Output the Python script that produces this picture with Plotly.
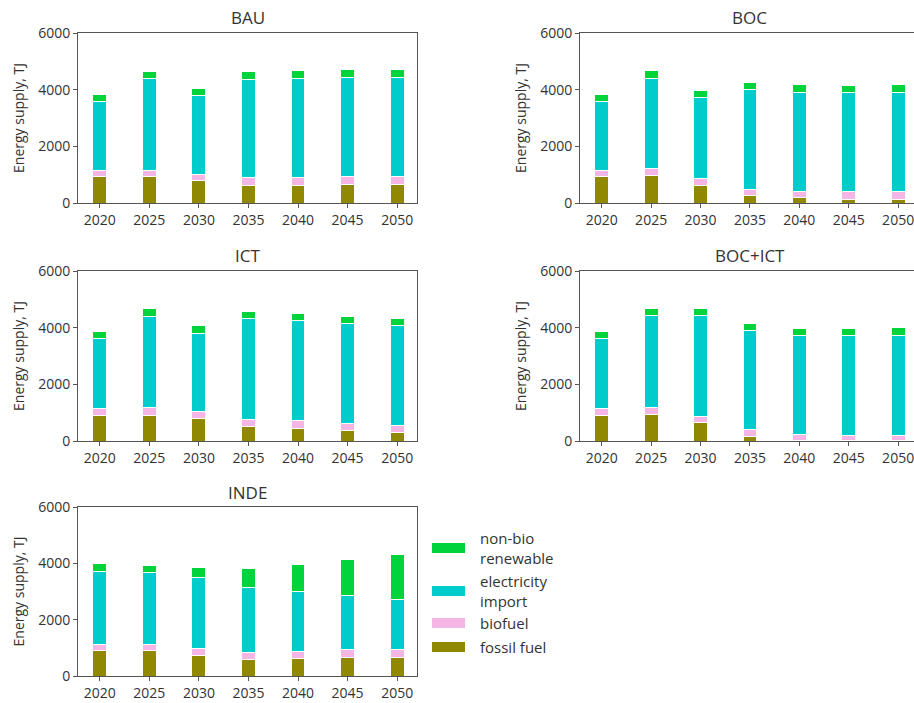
import plotly.graph_objects as go

years = ["2020", "2025", "2030", "2035", "2040", "2045", "2050"]
scenarios = ["BAU", "BOC", "ICT", "BOC+ICT", "INDE"]

series_names = ["fossil fuel", "biofuel", "electricity<br>import", "non-bio<br>renewable"]
series_colors = ["#8f8800", "#f5b6e6", "#00cccc", "#00d43a"]

# Energy supply by source (TJ) for each scenario
fossil_fuel = {
    "BAU":     [920, 920, 780, 620, 620, 670, 670],
    "BOC":     [920, 960, 620, 270, 190, 140, 140],
    "ICT":     [900, 900, 790, 520, 450, 370, 300],
    "BOC+ICT": [900, 930, 640, 165, 20, 10, 10],
    "INDE":    [890, 890, 740, 580, 620, 670, 670],
}
biofuel = {
    "BAU":     [230, 230, 230, 270, 270, 270, 270],
    "BOC":     [230, 250, 260, 210, 200, 260, 260],
    "ICT":     [230, 290, 250, 250, 260, 260, 230],
    "BOC+ICT": [230, 240, 230, 235, 200, 180, 180],
    "INDE":    [240, 240, 250, 240, 250, 260, 260],
}
electricity_import = {
    "BAU":     [2440, 3230, 2770, 3480, 3510, 3500, 3500],
    "BOC":     [2440, 3190, 2840, 3530, 3500, 3490, 3490],
    "ICT":     [2480, 3200, 2770, 3550, 3540, 3510, 3540],
    "BOC+ICT": [2480, 3250, 3550, 3500, 3500, 3530, 3530],
    "INDE":    [2580, 2540, 2490, 2330, 2130, 1930, 1790],
}
non_bio_renewable = {
    "BAU":     [250, 250, 260, 280, 260, 260, 260],
    "BOC":     [250, 260, 260, 250, 280, 250, 280],
    "ICT":     [250, 270, 250, 260, 250, 250, 270],
    "BOC+ICT": [250, 260, 260, 260, 260, 260, 300],
    "INDE":    [270, 260, 370, 650, 965, 1280, 1610],
}
series_data = [fossil_fuel, biofuel, electricity_import, non_bio_renewable]

W, H = 914, 703
FONT = "Open Sans, Noto Sans, DejaVu Sans, sans-serif"
TEXT = "#333333"
AXIS = "#555555"

# panel boxes in pixels: (left, right, top, bottom)
col_x = [(78, 417), (580, 914)]
row_y = [(33, 203), (271, 441), (507, 676)]
panel_pos = {
    "BAU": (0, 0), "BOC": (0, 1),
    "ICT": (1, 0), "BOC+ICT": (1, 1),
    "INDE": (2, 0),
}
UNIT_PX = 49.4  # pixels between neighbouring years

fig = go.Figure()
annotations = []
layout = {}

for i, sc in enumerate(scenarios):
    r, c = panel_pos[sc]
    x0, x1 = col_x[c]
    y0, y1 = row_y[r]
    xa = "x" if i == 0 else f"x{i + 1}"
    ya = "y" if i == 0 else f"y{i + 1}"
    xkey = "xaxis" if i == 0 else f"xaxis{i + 1}"
    ykey = "yaxis" if i == 0 else f"yaxis{i + 1}"

    for name, color, data in zip(series_names, series_colors, series_data):
        fig.add_trace(go.Bar(
            x=list(range(len(years))), y=data[sc], name=name,
            marker=dict(color=color, line=dict(color="white", width=1)),
            width=0.28, xaxis=xa, yaxis=ya, showlegend=False,
        ))

    # right column panels run off the page edge
    xrange = [-0.44, -0.44 + (x1 - x0) / UNIT_PX] if c == 1 else [-0.44, 6.4]

    layout[xkey] = dict(
        domain=[x0 / W, x1 / W], anchor=ya, range=xrange, automargin=False,
        tickmode="array", tickvals=list(range(len(years))), ticktext=years,
        ticklabeloverflow="allow",
        showline=True, linecolor=AXIS, linewidth=1, mirror=True,
        ticks="outside", ticklen=4, tickcolor=AXIS,
        showgrid=False, zeroline=False,
        tickfont=dict(family=FONT, size=14, color=TEXT),
    )
    layout[ykey] = dict(
        domain=[1 - y1 / H, 1 - y0 / H], anchor=xa, range=[0, 6000], automargin=False,
        tickvals=[0, 2000, 4000, 6000],
        showline=True, linecolor=AXIS, linewidth=1, mirror=(c == 0),
        ticks="outside", ticklen=4, tickcolor=AXIS,
        showgrid=False, zeroline=False,
        tickfont=dict(family=FONT, size=14, color=TEXT),
        title=dict(text="Energy supply, TJ", standoff=10,
                   font=dict(family=FONT, size=14, color=TEXT)),
    )
    # title centred over the full panel width (right column is cut by the page edge)
    title_x = x0 + (417 - 78) / 2 if c == 1 else (x0 + x1) / 2
    annotations.append(dict(
        text=sc, xref="paper", yref="paper",
        x=title_x / W, y=1 - (y0 - 15) / H,
        showarrow=False, xanchor="center", yanchor="middle",
        font=dict(family=FONT, size=17, color=TEXT),
    ))

# legend, drawn top entry first
shapes = []
legend_rows = [548, 591, 623, 647]
for (name, color), yc in zip(reversed(list(zip(series_names, series_colors))), legend_rows):
    shapes.append(dict(
        type="rect", xref="paper", yref="paper",
        x0=432 / W, x1=465 / W, y0=1 - (yc + 5) / H, y1=1 - (yc - 5) / H,
        fillcolor=color, line=dict(width=0),
    ))
    annotations.append(dict(
        text=name, xref="paper", yref="paper",
        x=478 / W, y=1 - yc / H, showarrow=False,
        xanchor="left", yanchor="middle", align="left",
        font=dict(family=FONT, size=15, color=TEXT),
    ))

fig.update_layout(
    width=W, height=H,
    margin=dict(l=0, r=0, t=0, b=0, autoexpand=False),
    paper_bgcolor="white", plot_bgcolor="white",
    barmode="stack", showlegend=False,
    annotations=annotations, shapes=shapes,
    **layout,
)

fig.write_html("out.html")
